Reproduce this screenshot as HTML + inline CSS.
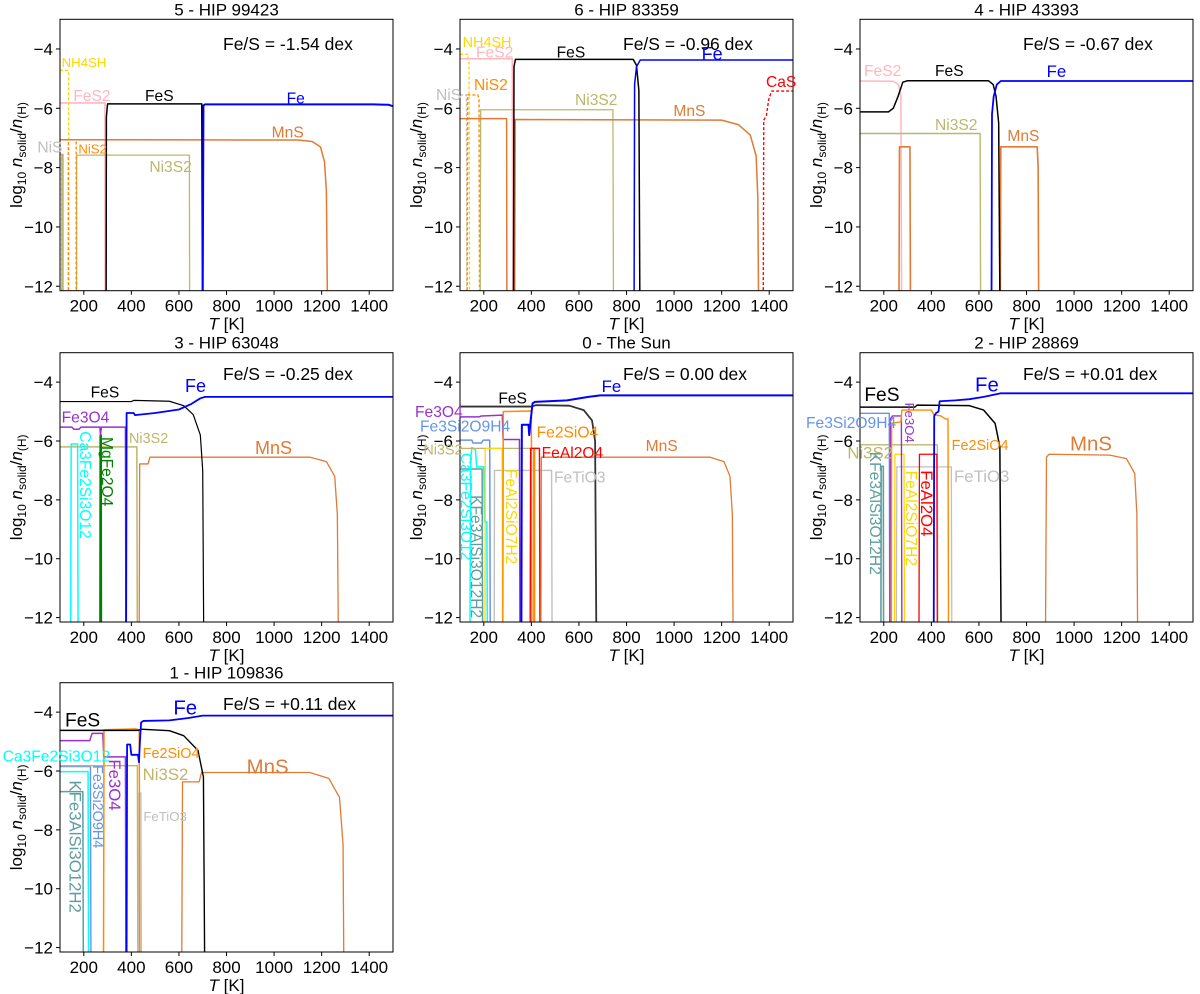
<!DOCTYPE html>
<html><head><meta charset="utf-8">
<style>
html,body{margin:0;padding:0;background:#fff;}
svg{display:block;font-family:"Liberation Sans","DejaVu Sans",sans-serif;}
</style></head>
<body>
<svg id="fig" width="1200" height="994" viewBox="0 0 1200 994" xmlns="http://www.w3.org/2000/svg"></svg>
<script>
// ---------- shared axis data ----------
const xTicks = [200, 400, 600, 800, 1000, 1200, 1400];
const yTicks = [-4, -6, -8, -10, -12];
const xDomain = [100, 1500];
const yDomain = [-12.15, -3.0];

// ---------- panel 5 - HIP 99423 ----------
const p5_NH4SH = [[100,-4.72],[133,-4.72],[136,-4.8],[137,-12.3]];
const p5_FeS2 = [[100,-5.82],[289,-5.82],[290,-12.3]];
const p5_FeS = [[294,-12.3],[295,-6.3],[300,-5.85],[696,-5.85],[699,-12.3]];
const p5_Fe = [[700,-12.3],[703,-5.9],[710,-5.87],[1420,-5.87],[1480,-5.88],[1500,-5.93]];
const p5_MnS = [[100,-7.06],[1100,-7.07],[1160,-7.12],[1195,-7.3],[1212,-7.8],[1220,-8.8],[1224,-12.3]];
const p5_NiS2 = [[135,-12.3],[135,-7.06],[168,-7.06],[168,-12.3]];
const p5_NiS = [[100,-7.55],[106,-7.55],[107,-12.3]];
const p5_Ni3S2a = [[108,-12.3],[108,-7.55],[113,-7.55],[113,-12.3]];
const p5_Ni3S2 = [[170,-12.3],[170,-7.58],[644,-7.58],[645,-12.3]];

// ---------- panel 6 - HIP 83359 ----------
const p6_NH4SH = [[100,-4.18],[132,-4.18],[138,-4.4],[140,-12.3]];
const p6_FeS2 = [[100,-4.33],[320,-4.33],[322,-12.3]];
const p6_FeS = [[325,-12.3],[327,-4.6],[333,-4.35],[828,-4.35],[842,-4.55],[852,-5.4],[856,-12.3]];
const p6_Fe = [[832,-12.3],[834,-5.2],[842,-4.6],[858,-4.37],[1500,-4.37]];
const p6_CaS = [[1375,-12.3],[1377,-6.4],[1388,-6.25],[1398,-5.7],[1410,-5.42],[1500,-5.42]];
const p6_MnSa = [[100,-6.35],[296,-6.35],[297,-12.3]];
const p6_MnS = [[330,-12.3],[332,-6.38],[1200,-6.4],[1270,-6.55],[1320,-6.9],[1345,-7.6],[1352,-9],[1355,-12.3]];
const p6_NiS2 = [[130,-12.3],[132,-5.55],[175,-5.55],[180,-5.7],[182,-12.3]];
const p6_NiS = [[100,-5.55],[127,-5.55],[129,-12.3]];
const p6_Ni3S2 = [[185,-12.3],[187,-6.05],[743,-6.05],[745,-12.3]];

// ---------- panel 4 - HIP 43393 ----------
const p4_FeS2 = [[100,-5.08],[240,-5.09],[262,-5.2],[272,-5.6],[275,-12.3]];
const p4_FeS = [[100,-6.12],[220,-6.12],[240,-6.0],[260,-5.6],[280,-5.12],[300,-5.07],[640,-5.07],[660,-5.2],[672,-5.6],[683,-6.5],[688,-12.3]];
const p4_Fe = [[653,-12.3],[655,-6.2],[662,-5.6],[675,-5.2],[692,-5.08],[1500,-5.08]];
const p4_Ni3S2 = [[100,-6.85],[605,-6.85],[607,-12.3]];
const p4_MnSa = [[264,-12.3],[266,-7.3],[310,-7.3],[312,-12.3]];
const p4_MnS = [[690,-12.3],[692,-7.3],[845,-7.3],[849,-8],[851,-12.3]];

// ---------- panel 3 - HIP 63048 ----------
const p3_FeS = [[100,-4.66],[400,-4.66],[410,-4.62],[560,-4.65],[620,-4.8],[660,-5.1],[690,-5.8],[700,-7],[704,-12.3]];
const p3_Fe = [[378,-12.3],[380,-5.05],[410,-5.05],[415,-5.12],[500,-5.05],[600,-4.93],[650,-4.75],[690,-4.55],[710,-4.5],[1500,-4.5]];
const p3_Fe3O4 = [[100,-5.53],[150,-5.53],[158,-5.6],[180,-5.6],[188,-5.53],[268,-5.53],[270,-5.8],[274,-5.53],[375,-5.53],[377,-12.3]];
const p3_MgFe2O4 = [[268,-12.3],[269,-5.8],[273,-5.8],[274,-12.3]];
const p3_Ca3Fe2Si3O12 = [[145,-12.3],[147,-6.1],[174,-6.1],[176,-12.3]];
const p3_Ni3S2 = [[100,-6.2],[423,-6.2],[425,-12.3]];
const p3_MnS = [[433,-12.3],[435,-6.78],[470,-6.78],[478,-6.55],[1150,-6.55],[1220,-6.7],[1255,-7.2],[1266,-8.5],[1270,-12.3]];

// ---------- panel 0 - The Sun ----------
const p0_FeS = [[100,-4.83],[400,-4.83],[420,-4.78],[560,-4.8],[620,-4.95],[655,-5.3],[668,-6],[673,-12.3]];
const p0_Fe = [[358,-12.3],[360,-5.45],[388,-5.45],[391,-5.8],[395,-5.45],[405,-4.72],[415,-4.67],[550,-4.62],[640,-4.5],[690,-4.45],[1500,-4.45]];
const p0_Fe3O4 = [[100,-5.18],[180,-5.18],[190,-5.15],[278,-5.12],[281,-5.95],[350,-5.95],[352,-12.3]];
const p0_Fe2SiO4 = [[280,-12.3],[282,-5.0],[400,-4.98],[402,-12.3]];
const p0_Fe2SiO4b = [[410,-12.3],[410,-6.25],[414,-6.25],[414,-12.3]];
const p0_Fe3Si2O9H4 = [[100,-5.97],[150,-5.97],[155,-6.07],[190,-6.07],[198,-5.97],[225,-5.97],[227,-12.3]];
const p0_Ni3S2 = [[100,-6.25],[410,-6.25],[412,-12.3]];
const p0_Ca3Fe2Si3O12 = [[142,-12.3],[145,-6.6],[150,-6.22],[165,-6.3],[170,-6.88],[200,-6.88],[203,-8.75],[213,-8.75],[215,-12.3]];
const p0_KFe3AlSi3O12H2 = [[100,-6.95],[193,-6.95],[195,-12.3]];
const p0_FeAl2SiO7H2 = [[205,-12.3],[206,-6.25],[277,-6.25],[279,-12.3]];
const p0_FeTiO3 = [[244,-12.3],[245,-7.0],[485,-7.0],[487,-12.3]];
const p0_FeAl2O4 = [[395,-12.3],[397,-6.25],[434,-6.25],[436,-12.3]];
const p0_MnS = [[440,-12.3],[442,-6.55],[1150,-6.55],[1210,-6.7],[1235,-7.2],[1245,-8.5],[1248,-12.3]];

// ---------- panel 2 - HIP 28869 ----------
const p2_FeS = [[100,-4.85],[330,-4.85],[340,-4.78],[560,-4.8],[620,-4.95],[668,-5.4],[688,-6.2],[693,-12.3]];
const p2_Fe = [[410,-12.3],[412,-5.15],[420,-5.05],[430,-5.0],[435,-4.65],[500,-4.62],[560,-4.58],[620,-4.5],[690,-4.38],[1500,-4.38]];
const p2_Fe3Si2O9H4 = [[100,-5.06],[223,-5.06],[225,-12.3]];
const p2_Fe3O4 = [[226,-12.3],[228,-5.25],[236,-5.15],[274,-5.15],[276,-12.3]];
const p2_Fe2SiO4 = [[232,-12.3],[233,-5.4],[272,-5.35],[276,-4.95],[400,-4.95],[410,-5.1],[440,-5.15],[460,-5.25],[470,-5.25],[472,-12.3]];
const p2_Ni3S2 = [[100,-6.13],[425,-6.13],[427,-12.3]];
const p2_KFe3AlSi3O12H2 = [[188,-12.3],[189,-6.86],[198,-6.86],[199,-12.3]];
const p2_FeAl2SiO7H2 = [[245,-12.3],[247,-6.45],[285,-6.45],[287,-12.3]];
const p2_FeTiO3 = [[253,-12.3],[255,-6.88],[484,-6.88],[486,-12.3]];
const p2_FeAl2O4 = [[348,-12.3],[350,-6.45],[423,-6.45],[425,-12.3]];
const p2_MnS = [[880,-12.3],[884,-6.55],[895,-6.45],[1150,-6.48],[1220,-6.6],[1255,-7.1],[1264,-8.5],[1267,-12.3]];

// ---------- panel 1 - HIP 109836 ----------
const p1_FeS = [[100,-4.62],[430,-4.62],[440,-4.58],[560,-4.63],[620,-4.8],[680,-5.3],[703,-6.2],[708,-12.3]];
const p1_Fe = [[380,-12.3],[382,-5.1],[395,-5.1],[400,-5.45],[428,-5.45],[432,-5.7],[436,-5.0],[441,-4.35],[450,-4.3],[560,-4.28],[640,-4.2],[700,-4.12],[1500,-4.12]];
const p1_Fe3O4 = [[100,-4.97],[225,-4.97],[235,-4.72],[280,-4.72],[284,-5.52],[375,-5.52],[377,-12.3]];
const p1_Fe2SiO4 = [[283,-12.3],[285,-4.6],[420,-4.57],[433,-4.6],[435,-12.3]];
const p1_Ca3Fe2Si3O12 = [[100,-6.02],[218,-6.02],[220,-12.3]];
const p1_Fe3Si2O9H4 = [[100,-5.85],[228,-5.85],[230,-12.3]];
const p1_Ni3S2 = [[100,-5.82],[425,-5.82],[427,-12.3]];
const p1_KFe3AlSi3O12H2 = [[100,-6.7],[196,-6.7],[198,-12.3]];
const p1_FeTiO3 = [[430,-12.3],[432,-6.75],[440,-6.75],[442,-12.3]];
const p1_MnS = [[612,-12.3],[615,-6.37],[685,-6.37],[695,-6.05],[1150,-6.05],[1230,-6.25],[1275,-6.9],[1290,-8.5],[1293,-12.3]];

// ---------- colours / styles ----------
const C = {FeS:'#000000',Fe:'#0000ff',MnS:'#e07a35',Ni3S2:'#bdb76b',FeS2:'#ffb6c1',NiS:'#c0c0c0',NiS2:'#ff8c00',
  NH4SH:'#ffd700',Fe3O4:'#9932cc',Fe2SiO4:'#ff8c00',Fe3Si2O9H4:'#6495ed',Ca3:'#00ffff',KFe3:'#5f9ea0',
  FeAl2SiO7H2:'#ffd700',FeTiO3:'#c0c0c0',FeAl2O4:'#ff0000',MgFe2O4:'#008000',CaS:'#ff0000'};

const panelSeries = {
 p5:[['nh4sh',p5_NH4SH,C.NH4SH,1.4,1],['fes2',p5_FeS2,C.FeS2,1.6,0],['nis',p5_NiS,C.NiS,1.3,1],['ni3s2-a',p5_Ni3S2a,C.Ni3S2,1.3,0],
     ['ni3s2',p5_Ni3S2,C.Ni3S2,1.3,0],['nis2',p5_NiS2,C.NiS2,1.4,1],['mns',p5_MnS,C.MnS,1.5,0],['fes',p5_FeS,C.FeS,1.5,0],['fe',p5_Fe,C.Fe,2,0]],
 p6:[['nh4sh',p6_NH4SH,C.NH4SH,1.4,1],['fes2',p6_FeS2,C.FeS2,1.6,0],['nis',p6_NiS,C.NiS,1.3,1],['nis2',p6_NiS2,C.NiS2,1.4,1],
     ['ni3s2',p6_Ni3S2,C.Ni3S2,1.3,0],['mns-a',p6_MnSa,C.MnS,1.5,0],['mns',p6_MnS,C.MnS,1.5,0],['cas',p6_CaS,C.CaS,1.4,1],['fes',p6_FeS,C.FeS,1.5,0],['fe',p6_Fe,C.Fe,1.5,0]],
 p4:[['fes2',p4_FeS2,C.FeS2,1.5,0],['ni3s2',p4_Ni3S2,C.Ni3S2,1.4,0],['mns-a',p4_MnSa,C.MnS,1.6,0],['mns',p4_MnS,C.MnS,1.6,0],
     ['fes',p4_FeS,C.FeS,1.5,0],['fe',p4_Fe,C.Fe,1.8,0]],
 p3:[['ca3fe2si3o12',p3_Ca3Fe2Si3O12,C.Ca3,1.5,0],['ni3s2',p3_Ni3S2,C.Ni3S2,1.5,0],['mgfe2o4',p3_MgFe2O4,C.MgFe2O4,1.6,0],['fe3o4',p3_Fe3O4,C.Fe3O4,1.5,0],
     ['mns',p3_MnS,C.MnS,1.3,0],['fes',p3_FeS,C.FeS,1.2,0],['fe',p3_Fe,C.Fe,1.8,0]],
 p0:[['fetio3',p0_FeTiO3,C.FeTiO3,1.4,0],['kfe3alsi3o12h2',p0_KFe3AlSi3O12H2,C.KFe3,1.5,0],['ca3fe2si3o12',p0_Ca3Fe2Si3O12,C.Ca3,1.5,0],
     ['fe3si2o9h4',p0_Fe3Si2O9H4,C.Fe3Si2O9H4,1.5,0],['ni3s2',p0_Ni3S2,C.Ni3S2,1.3,0],['feal2sio7h2',p0_FeAl2SiO7H2,C.FeAl2SiO7H2,1.3,0],
     ['fe3o4',p0_Fe3O4,C.Fe3O4,1.5,0],['fe2sio4',p0_Fe2SiO4,C.Fe2SiO4,1.5,0],['fe2sio4-b',p0_Fe2SiO4b,C.Fe2SiO4,1.3,0],['feal2o4',p0_FeAl2O4,C.FeAl2O4,1.4,0],
     ['mns',p0_MnS,C.MnS,1.3,0],['fes',p0_FeS,'#333',1.8,0],['fe',p0_Fe,C.Fe,2,0]],
 p2:[['fetio3',p2_FeTiO3,C.FeTiO3,1.3,0],['kfe3alsi3o12h2',p2_KFe3AlSi3O12H2,C.KFe3,1.6,0],['fe3si2o9h4',p2_Fe3Si2O9H4,C.Fe3Si2O9H4,1.4,0],
     ['ni3s2',p2_Ni3S2,C.Ni3S2,1.3,0],['feal2sio7h2',p2_FeAl2SiO7H2,C.FeAl2SiO7H2,1.3,0],['fe3o4',p2_Fe3O4,C.Fe3O4,1.4,0],
     ['fe2sio4',p2_Fe2SiO4,C.Fe2SiO4,1.4,0],['feal2o4',p2_FeAl2O4,C.FeAl2O4,1.3,0],['mns',p2_MnS,C.MnS,1.3,0],['fes',p2_FeS,C.FeS,1.5,0],['fe',p2_Fe,C.Fe,1.8,0]],
 p1:[['kfe3alsi3o12h2',p1_KFe3AlSi3O12H2,C.KFe3,1.5,0],['ca3fe2si3o12',p1_Ca3Fe2Si3O12,C.Ca3,1.5,0],['fe3si2o9h4',p1_Fe3Si2O9H4,C.Fe3Si2O9H4,1.4,0],
     ['ni3s2',p1_Ni3S2,C.Ni3S2,1.3,0],['fetio3',p1_FeTiO3,C.FeTiO3,1.4,0],['fe3o4',p1_Fe3O4,C.Fe3O4,1.5,0],['fe2sio4',p1_Fe2SiO4,C.Fe2SiO4,1.5,0],
     ['mns',p1_MnS,C.MnS,1.3,0],['fes',p1_FeS,C.FeS,1.4,0],['fe',p1_Fe,C.Fe,1.8,0]]
};

const panelLabels = {
 p5:[['NH4SH',C.NH4SH,185,190,11,0],['FeS2',C.FeS2,220,290,13,0],['FeS',C.FeS,435,290,13,0],['Fe',C.Fe,860,298,13,0],
     ['MnS',C.MnS,815,400,13,0],['NiS',C.NiS,112,445,13,0],['NiS2',C.NiS2,235,450,11,0],['Ni3S2',C.Ni3S2,448,503,13,0]],
 p6:[['NH4SH',C.NH4SH,188,130,12,0],['FeS2',C.FeS2,228,160,13,0],['FeS',C.FeS,470,160,13,0],['Fe',C.Fe,905,165,15,0],
     ['NiS2',C.NiS2,222,258,13,0],['NiS',C.NiS,108,288,13,0],['Ni3S2',C.Ni3S2,525,302,13,0],['MnS',C.MnS,820,335,13,0],['CaS',C.CaS,1098,248,13,0]],
 p4:[['FeS2',C.FeS2,192,215,13,0],['FeS',C.FeS,405,215,13,0],['Fe',C.Fe,740,217,14,0],['Ni3S2',C.Ni3S2,405,378,13,0],['MnS',C.MnS,622,410,13,0]],
 p3:[['FeS',C.FeS,272,190,13,0],['Fe',C.Fe,555,172,15,0],['Fe3O4',C.Fe3O4,185,265,13,0],['Ni3S2',C.Ni3S2,387,328,12,0],
     ['MnS',C.MnS,765,358,15,0],['Ca3Fe2Si3O12',C.Ca3,252,465,13,1],['MgFe2O4',C.MgFe2O4,318,425,13,1]],
 p0:[['FeS',C.FeS,295,208,13,0],['Fe',C.Fe,605,172,14,0],['Fe3O4',C.Fe3O4,45,248,13,0],['Fe3Si2O9H4',C.Fe3Si2O9H4,60,292,13,0],
     ['Ni3S2',C.Ni3S2,70,362,12,0],['Fe2SiO4',C.Fe2SiO4,410,310,13,0],['FeAl2O4',C.FeAl2O4,425,372,13,0],['MnS',C.MnS,737,350,13,0],
     ['FeTiO3',C.FeTiO3,462,445,13,0],['FeAl2SiO7H2',C.FeAl2SiO7H2,330,560,13,1],['Ca3Fe2Si3O12',C.Ca3,195,530,13,1],['KFe3AlSi3O12H2',C.KFe3,226,680,13,1]],
 p2:[['FeS',C.FeS,193,198,16,0],['Fe',C.Fe,525,168,17,0],['Fe3Si2O9H4',C.Fe3Si2O9H4,18,282,13,0],['Ni3S2',C.Ni3S2,142,372,14,0],
     ['Fe2SiO4',C.Fe2SiO4,455,348,12,0],['MnS',C.MnS,810,345,17,0],['FeTiO3',C.FeTiO3,462,442,14,0],['Fe3O4',C.Fe3O4,325,278,11,1],
     ['FeAl2O4',C.FeAl2O4,377,520,14,1],['FeAl2SiO7H2',C.FeAl2SiO7H2,330,565,13,1],['KFe3AlSi3O12H2',C.KFe3,222,550,13,1]],
 p1:[['FeS',C.FeS,195,185,16,0],['Fe',C.Fe,520,148,17,0],['Ca3Fe2Si3O12',C.Ca3,8,292,13,0],['Fe2SiO4',C.Fe2SiO4,428,283,12,0],
     ['MnS',C.MnS,740,325,17,0],['Ni3S2',C.Ni3S2,428,347,14,0],['FeTiO3',C.FeTiO3,430,472,11,0],['Fe3O4',C.Fe3O4,340,375,14,1],
     ['Fe3Si2O9H4',C.Fe3Si2O9H4,290,440,12,1],['KFe3AlSi3O12H2',C.KFe3,222,560,14,1]]
};
const labelScale = 1.2;

const panelKeys = ['p5','p6','p4','p3','p0','p2','p1'];
const panelTitles = ['5 - HIP 99423','6 - HIP 83359','4 - HIP 43393','3 - HIP 63048','0 - The Sun','2 - HIP 28869','1 - HIP 109836'];
const panelRatios = ['Fe/S = -1.54 dex','Fe/S = -0.96 dex','Fe/S = -0.67 dex','Fe/S = -0.25 dex','Fe/S = 0.00 dex','Fe/S = +0.01 dex','Fe/S = +0.11 dex'];

const NS = 'http://www.w3.org/2000/svg';
const svg = document.getElementById('fig');
function mk(tag, attrs, parent){ const e=document.createElementNS(NS,tag); for(const k in attrs) e.setAttribute(k,attrs[k]); (parent||svg).appendChild(e); return e; }

const colLeft=[60,460,860], rowTop=[19.3,352.7,682.7], rowH=[271.4,269.3,269.3], W=333;

panelKeys.forEach((key,i)=>{
  const col=i%3, row=Math.floor(i/3);
  const L=colLeft[col], T=rowTop[row], H=rowH[row];
  const cellX=col*400, cellY=row*330;
  const xs=t=>L+(t-xDomain[0])/(xDomain[1]-xDomain[0])*W;
  const ys=v=>T+(yDomain[1]-v)/(yDomain[1]-yDomain[0])*H;

  const g=mk('g',{});
  
  

  const cp=mk('clipPath',{id:'clip'+key},g);
  mk('rect',{x:L,y:T,width:W,height:H},cp);

  const plot=mk('g',{'clip-path':'url(#clip'+key+')'},g);
  
  
  panelSeries[key].forEach(s=>{
    const d=s[1].map((p,j)=>(j?'L':'M')+xs(p[0]).toFixed(2)+','+ys(p[1]).toFixed(2)).join('');
    const path=mk('path',{d:d,fill:'none',stroke:s[2],'stroke-width':s[3],'stroke-linejoin':'round'},plot);
    if(s[4]) path.setAttribute('stroke-dasharray','3,2');
    
    
  });

  const fr=mk('rect',{x:L,y:T,width:W,height:H,fill:'none',stroke:'#000','stroke-width':1},g);
  
  

  xTicks.forEach(t=>{
    const x=xs(t);
    mk('line',{x1:x,y1:T+H,x2:x,y2:T+H+4,stroke:'#000','stroke-width':1},g);
    const tl=mk('text',{x:x,y:T+H+21,'font-size':17,'text-anchor':'middle',fill:'#000'},g);
    tl.textContent=t;
    
    
  });
  yTicks.forEach(v=>{
    const y=ys(v);
    mk('line',{x1:L-4,y1:y,x2:L,y2:y,stroke:'#000','stroke-width':1},g);
    const tl=mk('text',{x:L-7,y:y+6,'font-size':17,'text-anchor':'end',fill:'#000'},g);
    tl.textContent='\u2212'+Math.abs(v);
    
    
  });

  const ti=mk('text',{x:L+W/2,y:T-4,'font-size':17,'text-anchor':'middle',fill:'#000'},g);
  ti.textContent=panelTitles[i];
  
  

  const ra=mk('text',{x:cellX+223,y:cellY+50,'font-size':17.5,fill:'#000'},g);
  ra.textContent=panelRatios[i];
  
  

  const xl=mk('text',{x:L+W/2,y:T+H+39,'font-size':17,'text-anchor':'middle',fill:'#000'},g);
  xl.innerHTML='<tspan font-style="italic">T</tspan> [K]';
  
  

  const cx=cellX+22, cy=T+H/2;
  const yl=mk('text',{x:cx,y:cy,'font-size':17,'text-anchor':'middle',fill:'#000',transform:'rotate(-90 '+cx+' '+cy+')'},g);
  yl.innerHTML='log<tspan font-size="12" dy="4">10</tspan><tspan dy="-4"> </tspan><tspan font-style="italic">n</tspan><tspan font-size="12" dy="4">solid</tspan><tspan dy="-4">/</tspan><tspan font-style="italic">n</tspan><tspan font-size="12" dy="4">(H)</tspan>';
  
  

  panelLabels[key].forEach(lb=>{
    const px=cellX+lb[2]/3, py=cellY+lb[3]/3;
    const fs=(lb[4]*labelScale).toFixed(1);
    let t;
    if(lb[5]){
      t=mk('text',{x:px,y:py,'font-size':fs,'text-anchor':'middle','dominant-baseline':'middle',fill:lb[1],transform:'rotate(90 '+px+' '+py+')'},g);
    } else {
      t=mk('text',{x:px,y:py,'font-size':fs,'dominant-baseline':'middle',fill:lb[1]},g);
    }
    t.textContent=lb[0];
    
    
  });
});
</script>
</body></html>
